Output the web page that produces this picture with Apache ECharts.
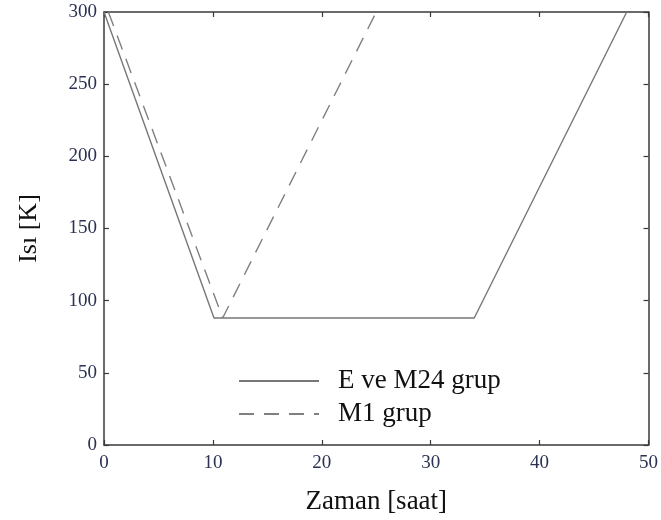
<!DOCTYPE html>
<html><head><meta charset="utf-8">
<script src="https://cdn.jsdelivr.net/npm/echarts@6/dist/echarts.min.js"></script>
<style>html,body{margin:0;padding:0;background:#fff}#c{width:661px;height:520px}</style>
</head><body><div id="c"></div>
<script>
var seriesNames = ['E ve M24 grup', 'M1 grup'];
var solidX = [0, 10.1, 34, 48];
var solidY = [300, 88, 88, 300];
var dashedX = [0.4, 10.9, 25];
var dashedY = [300, 88, 300];
var xTicks = [0, 10, 20, 30, 40, 50];
var yTicks = [0, 50, 100, 150, 200, 250, 300];

function pairs(xs, ys) { return xs.map(function (x, i) { return [x, ys[i]]; }); }

var chart = echarts.init(document.getElementById('c'), null, {renderer: 'canvas'});
var serif = '"Liberation Serif", "DejaVu Serif", serif';
var axisLine = {show: true, onZero: false, lineStyle: {color: '#3a3a3a', width: 1.5}};
var tickStyle = {show: true, inside: true, length: 5, lineStyle: {color: '#3a3a3a', width: 1.2}};
var labelColor = '#2b3152';
chart.setOption({
  animation: false,
  backgroundColor: '#fff',
  grid: {left: 104, right: 9, top: 12, bottom: 75, containLabel: false},
  legend: {
    orient: 'vertical', left: 233, top: 361, itemGap: 3, itemWidth: 80, itemHeight: 14,
    data: seriesNames,
    itemStyle: {opacity: 0},
    textStyle: {fontFamily: serif, fontSize: 27, lineHeight: 26, color: '#111', padding: [0, 0, 4, 14]}
  },
  xAxis: [{
    type: 'value', min: xTicks[0], max: xTicks[xTicks.length - 1], interval: 10,
    name: 'Zaman [saat]', nameLocation: 'middle', nameGap: 43,
    nameTextStyle: {fontFamily: serif, fontSize: 27, color: '#111'},
    axisLine: axisLine, axisTick: tickStyle, splitLine: {show: false},
    axisLabel: {fontFamily: serif, fontSize: 19, color: labelColor, margin: 9}
  }, {
    type: 'value', position: 'top', min: 0, max: 50, interval: 10,
    axisLine: axisLine, axisTick: tickStyle, splitLine: {show: false}, axisLabel: {show: false}
  }],
  yAxis: [{
    type: 'value', min: yTicks[0], max: yTicks[yTicks.length - 1], interval: 50,
    name: 'Isı [K]', nameLocation: 'middle', nameGap: 62, nameRotate: 90,
    nameTextStyle: {fontFamily: serif, fontSize: 26, color: '#111'},
    axisLine: axisLine, axisTick: tickStyle, splitLine: {show: false},
    axisLabel: {fontFamily: serif, fontSize: 19, color: labelColor, margin: 7}
  }, {
    type: 'value', position: 'right', min: 0, max: 300, interval: 50,
    axisLine: axisLine, axisTick: tickStyle, splitLine: {show: false}, axisLabel: {show: false}
  }],
  series: [{
    name: seriesNames[0], type: 'line', data: pairs(solidX, solidY),
    symbol: 'none', lineStyle: {color: '#777', width: 1.4, type: 'solid'}, itemStyle: {color: '#777'}
  }, {
    name: seriesNames[1], type: 'line', data: pairs(dashedX, dashedY),
    symbol: 'none', lineStyle: {color: '#808080', width: 1.4, type: [15, 10]}, itemStyle: {color: '#808080'}
  }]
});
</script></body></html>
